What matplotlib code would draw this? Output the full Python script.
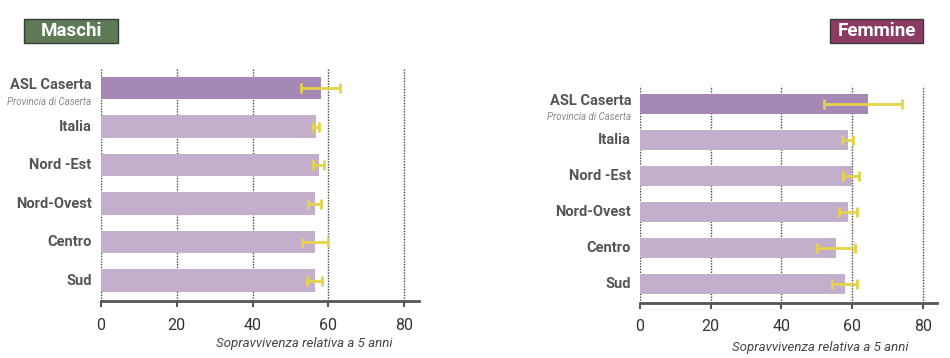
import matplotlib
matplotlib.use("Agg")
import matplotlib.pyplot as plt
from matplotlib.patches import Rectangle

categories = ["ASL Caserta", "Italia", "Nord -Est", "Nord-Ovest", "Centro", "Sud"]
subtitle = "Provincia di Caserta"

m_values = [58.2, 56.7, 57.5, 56.5, 56.5, 56.5]
m_low = [52.8, 56.0, 56.0, 54.7, 53.0, 54.3]
m_high = [63.1, 57.5, 58.9, 58.0, 59.8, 58.4]

f_values = [64.4, 58.8, 59.9, 58.8, 55.5, 58.1]
f_low = [52.2, 57.3, 57.4, 56.2, 50.2, 54.3]
f_high = [74.2, 60.2, 62.0, 61.4, 60.9, 61.4]

xticks = [0, 20, 40, 60, 80]
xlabel = "Sopravvivenza relativa a 5 anni"
titles = ["Maschi", "Femmine"]

FONT = ["Roboto", "DejaVu Sans"]
plt.rcParams["font.family"] = FONT

fig = plt.figure(figsize=(9.5, 3.58), dpi=100)

col_main = "#a588b5"
col_other = "#c3aecb"
col_err = "#e5d34a"
col_text = "#555555"

def panel(rect, vals, lo, hi, ylim):
    ax = fig.add_axes(rect)
    ypos = list(range(len(categories)))
    colors = [col_main] + [col_other] * (len(categories) - 1)
    ax.barh(ypos, vals, height=0.58, color=colors, zorder=2)
    xerr = [[v - l for v, l in zip(vals, lo)], [h - v for v, h in zip(vals, hi)]]
    ax.errorbar(vals, ypos, xerr=xerr, fmt="none", ecolor=col_err,
                elinewidth=2, capsize=3.5, capthick=2, zorder=3)
    ax.set_xlim(0, 84)
    ax.set_ylim(*ylim)
    for t in xticks:
        ax.axvline(t, color="#444444", lw=1.0, ls=(0, (1, 1)), zorder=1)
    for s in ["top", "right", "left"]:
        ax.spines[s].set_visible(False)
    ax.spines["bottom"].set_color(col_text)
    ax.spines["bottom"].set_linewidth(2)
    ax.set_xticks(xticks)
    ax.set_xticklabels([str(t) for t in xticks], fontsize=11.5, color="#333333")
    ax.tick_params(axis="x", length=4, width=1.5, color=col_text, pad=8)
    ax.set_yticks(ypos)
    ax.set_yticklabels([""] * len(ypos))
    ax.tick_params(axis="y", length=0)
    for i, c in enumerate(categories):
        if i == 0:
            ax.text(-2.5, i - 0.08, c, ha="right", va="center", fontsize=10.5,
                    fontweight="bold", color=col_text)
            ax.text(-2.5, i + 0.36, subtitle, ha="right", va="center",
                    fontsize=7, style="italic", color="#8a8a8a")
        else:
            ax.text(-2.5, i, c, ha="right", va="center", fontsize=10.5,
                    fontweight="bold", color=col_text)
    return ax

axL = panel([0.1063, 0.1592, 0.335, 0.651], m_values, m_low, m_high, (5.53, -0.52))
axR = panel([0.6737, 0.1545, 0.3124, 0.6053], f_values, f_low, f_high, (5.52, -0.5))

fig.text(392 / 950, 1 - 344 / 358, xlabel, ha="right", va="center",
         fontsize=9.5, style="italic", color="#444444")
fig.text(909 / 950, 1 - 347 / 358, xlabel, ha="right", va="center",
         fontsize=9.5, style="italic", color="#444444")

# title boxes
def title_box(x0, x1, color, text):
    fig.patches.append(Rectangle((x0 / 950, 1 - 43 / 358), (x1 - x0) / 950, 24 / 358,
                                 transform=fig.transFigure, facecolor=color,
                                 edgecolor="#3a3a3a", lw=1.0))
    fig.text((x0 + x1) / 2 / 950, 1 - 31.5 / 358, text, ha="center", va="center",
             fontsize=13.5, fontweight="bold", color="white")

title_box(24, 118, "#5e7a56", titles[0])
title_box(830, 923, "#8c3b63", titles[1])

fig.savefig("out.png", dpi=100)
